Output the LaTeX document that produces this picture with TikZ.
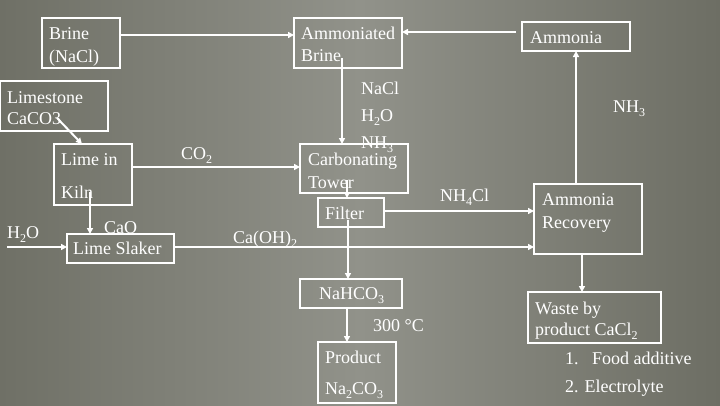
\documentclass[tikz,border=0pt]{standalone}
\usepackage{fontspec}
\setmainfont{Liberation Serif}
\usetikzlibrary{arrows.meta,calc}
\definecolor{bgL}{RGB}{111,112,102}
\definecolor{bgM}{RGB}{145,146,138}
\definecolor{bgR}{RGB}{109,110,100}
\newcommand{\mysub}[1]{\raisebox{-4pt}{\fontsize{12}{12}\selectfont #1}}
\begin{document}
\begin{tikzpicture}[x=1pt,y=-1pt,
  box/.style={draw=white,line width=1.1pt,inner sep=0pt,outer sep=0pt},
  txt/.style={text=white,anchor=base west,inner sep=0pt,font=\fontsize{18}{21}\selectfont},
  arr/.style={draw=white,line width=2pt,-{Triangle[length=6pt,width=6pt]}}]
\shade[left color=bgL,right color=bgR,middle color=bgM] (0,0) rectangle (720,405);
\useasboundingbox (0,0) rectangle (720,405);
% boxes
\node[box,minimum width=78pt,minimum height=50pt] (brine) at (81,43) {};
\node[box,minimum width=108pt,minimum height=50pt] (amb) at (348,43) {};
\node[box,minimum width=108pt,minimum height=29pt] (amm) at (576,36.5) {};
\node[box,minimum width=107.5pt,minimum height=50pt] (lime) at (54.25,106) {};
\node[box,minimum width=78pt,minimum height=61pt] (kiln) at (93,174.5) {};
\node[box,minimum width=107pt,minimum height=29pt] (slaker) at (120.5,248.5) {};
\node[box,minimum width=108pt,minimum height=49pt] (tower) at (354,168.5) {};
\node[box,minimum width=66pt,minimum height=29pt] (filter) at (351,212.5) {};
\node[box,minimum width=108pt,minimum height=70pt] (recov) at (588,219) {};
\node[box,minimum width=102pt,minimum height=29pt] (nahco) at (351,293.5) {};
\node[box,minimum width=78pt,minimum height=61pt] (prod) at (357,372.5) {};
\node[box,minimum width=133pt,minimum height=51pt] (waste) at (594.5,317.5) {};
% box texts
\node[txt] (t1) at (49,39) {Brine};
\node[txt] (t2) at (49,62) {(NaCl)};
\node[txt] (t3) at (301,39) {Ammoniated};
\node[txt] (t4) at (301,61) {Brine};
\node[txt] (t5) at (530,43) {Ammonia};
\node[txt] (t6) at (7,103) {Limestone};
\node[txt] (t7) at (7,124) {CaCO3};
\node[txt] (t8) at (61,165) {Lime in};
\node[txt] (t9) at (61,198) {Kiln};
\node[txt] (t10) at (73,254) {Lime Slaker};
\node[txt] (t11) at (308,165) {Carbonating};
\node[txt] (t12) at (308,188) {Tower};
\node[txt] (t13) at (325,219) {Filter};
\node[txt] (t14) at (542,205) {Ammonia};
\node[txt] (t15) at (542,228) {Recovery};
\node[txt] (t16) at (319,299) {NaHCO\mysub{3}};
\node[txt] (t17) at (325,363) {Product};
\node[txt] (t18) at (325,394) {Na\mysub{2}CO\mysub{3}};
\node[txt] (t19) at (535,314) {Waste by};
\node[txt] (t20) at (535,335) {product CaCl\mysub{2}};
% free labels
\node[txt] (l1) at (361,94) {NaCl};
\node[txt] (l2) at (361,121) {H\mysub{2}O};
\node[txt] (l3) at (361,148) {NH\mysub{3}};
\node[txt] (l4) at (181,159) {CO\mysub{2}};
\node[txt] (l5) at (7,238) {H\mysub{2}O};
\node[txt] (l6) at (104,233) {CaO};
\node[txt] (l7) at (233,243) {Ca(OH)\mysub{2}};
\node[txt] (l8) at (440,201) {NH\mysub{4}Cl};
\node[txt] (l9) at (613,112) {NH\mysub{3}};
\node[txt] (l10) at (373,331) {300 °C};
\node[txt] (l11) at (565,364) {1.\hspace{13.5pt}Food additive};
\node[txt] (l12) at (565,392) {2. Electrolyte};
% connectors
\coordinate (yb) at (0,35);
\draw[arr] (brine.east |- yb) -- (amb.west |- yb);
\coordinate (ya) at (0,32);
\draw[arr,shorten <=6pt] (amm.west |- ya) -- (amb.east |- ya);
\coordinate (xa) at (576,0);
\draw[arr] (recov.north -| xa) -- (amm.south -| xa);
\coordinate (st) at (342,58);
\draw[arr] (st) -- (tower.north -| st);
\coordinate (sl) at (57,118);
\coordinate (xk) at (82,0);
\draw[arr] (sl) -- (kiln.north -| xk);
\coordinate (sk) at (90,192);
\draw[arr] (sk) -- (slaker.north -| sk);
\coordinate (yc) at (0,167);
\draw[arr] (kiln.east |- yc) -- (tower.west |- yc);
\coordinate (sw) at (7,247);
\draw[arr] (sw) -- (slaker.west |- sw);
\draw[arr] (slaker.east |- sw) -- (recov.west |- sw);
\coordinate (st2) at (347,180);
\draw[arr] (st2) -- (filter.north -| st2);
\coordinate (yf) at (0,211);
\draw[arr] (filter.east |- yf) -- (recov.west |- yf);
\coordinate (sf) at (348,220);
\draw[arr] (sf) -- (nahco.north -| sf);
\coordinate (xn) at (347,0);
\draw[arr] (nahco.south -| xn) -- (prod.north -| xn);
\coordinate (xr) at (582,0);
\draw[arr] (recov.south -| xr) -- (waste.north -| xr);
\end{tikzpicture}
\end{document}
